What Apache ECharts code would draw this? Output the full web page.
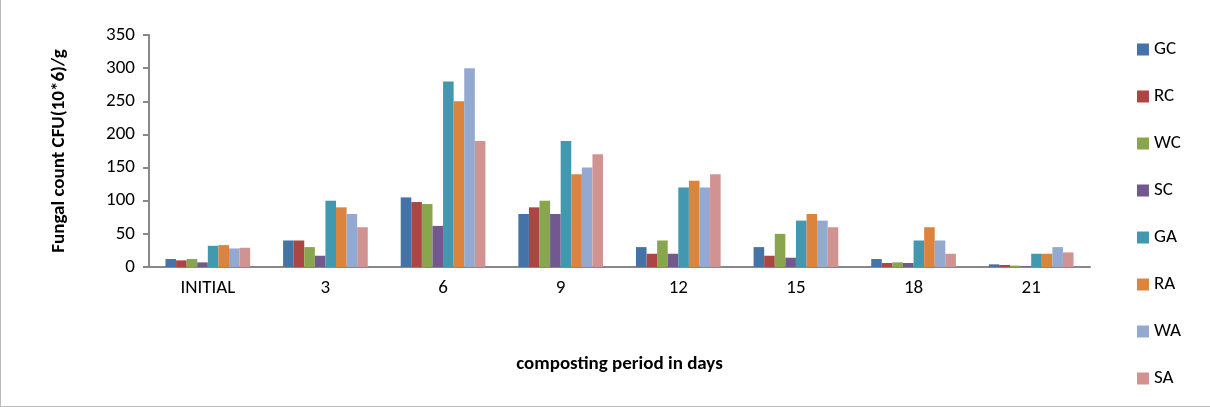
<!DOCTYPE html>
<html>
<head>
<meta charset="utf-8">
<script src="https://cdn.jsdelivr.net/npm/echarts@6/dist/echarts.min.js"></script>
<style>
html, body { margin: 0; padding: 0; background: #fff; }
#container { width: 1210px; height: 407px; box-sizing: border-box; border-left: 1px solid #bbb; border-bottom: 1px solid #bbb; }
</style>
</head>
<body>
<div id="container"></div>
<script>
// 横轴分类
var categories = ['INITIAL', '3', '6', '9', '12', '15', '18', '21']
var seriesNames = ['GC', 'RC', 'WC', 'SC', 'GA', 'RA', 'WA', 'SA']
var colors = ['#4572a7', '#aa4643', '#89a54e', '#71588f', '#4198af', '#db843d', '#93a9cf', '#d19392']

var gc = [12, 40, 105, 80, 30, 30, 12, 4]
var rc = [10, 40, 98, 90, 20, 17, 6, 3]
var wc = [12, 30, 95, 100, 40, 50, 7, 2]
var sc = [7, 17, 62, 80, 20, 14, 6, 1]
var ga = [32, 100, 280, 190, 120, 70, 40, 20]
var ra = [33, 90, 250, 140, 130, 80, 60, 20]
var wa = [28, 80, 300, 150, 120, 70, 40, 30]
var sa = [29, 60, 190, 170, 140, 60, 20, 22]
var allValues = [gc, rc, wc, sc, ga, ra, wa, sa]

var chart = echarts.init(document.getElementById('container'))
var font = 'Carlito, Calibri, "Liberation Sans", sans-serif'

var series = []
for (let i = 0; i < seriesNames.length; i++) {
    series.push({
        name: seriesNames[i],
        type: 'bar',
        data: allValues[i],
        barGap: '0%',
        barCategoryGap: '28%',
        itemStyle: { color: colors[i] },
    })
}

var option = {
    animation: false,
    textStyle: { fontFamily: font },
    grid: { left: 148, right: 120, top: 35, bottom: 139 },
    legend: {
        orient: 'vertical',
        right: 24,
        top: 35,
        itemGap: 28,
        itemWidth: 12,
        itemHeight: 12,
        icon: 'rect',
        textStyle: { fontSize: 19, color: '#000', fontFamily: font },
        data: seriesNames,
    },
    xAxis: {
        type: 'category',
        data: categories,
        name: 'composting period in days',
        nameLocation: 'middle',
        nameGap: 88,
        nameTextStyle: { fontSize: 19, fontWeight: 'bold', color: '#000' },
        axisTick: { show: false },
        axisLine: { lineStyle: { color: '#888', width: 2 } },
        axisLabel: { fontSize: 19, color: '#000', margin: 12 },
    },
    yAxis: {
        type: 'value',
        min: 0,
        max: 350,
        interval: 50,
        name: 'Fungal count CFU(10*6)/g',
        nameLocation: 'middle',
        nameGap: 80,
        nameTextStyle: { fontSize: 19, fontWeight: 'bold', color: '#000' },
        splitLine: { show: false },
        axisLine: { show: true, lineStyle: { color: '#888', width: 2 } },
        axisTick: { show: true, length: 6, inside: false, lineStyle: { color: '#888', width: 2 } },
        axisLabel: { fontSize: 19, color: '#000', margin: 14 },
    },
    series: series,
}

chart.setOption(option)
</script>
</body>
</html>
